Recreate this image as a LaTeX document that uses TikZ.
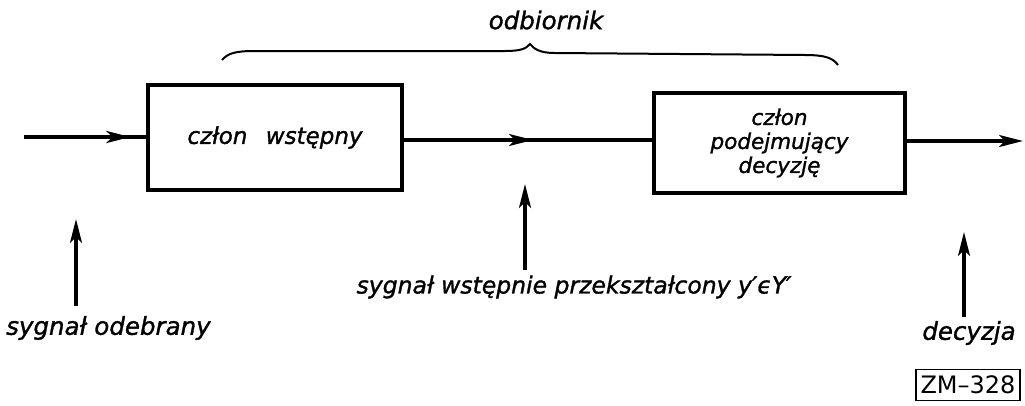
\documentclass[tikz,border=0pt]{standalone}
\usepackage{fontspec}
\setmainfont{DejaVu Sans}
\newfontfamily\techit[FakeBold=1.3]{DejaVu Sans Oblique}
\usetikzlibrary{arrows.meta,decorations.markings}
\tikzset{
  lbl/.style={font=\fontsize{24.5}{28}\selectfont\techit, inner sep=0pt},
  blok/.style={draw, line width=3.4pt, align=center, font=\fontsize{21.5}{24}\selectfont\techit, inner sep=0pt},
  tip/.tip={Stealth[length=24pt,width=12pt,inset=6pt]},
  sig/.style={line width=3.4pt, -tip},
  flow/.style={line width=3.4pt},
  arrowat/.style={postaction={decorate}, decoration={markings, mark=at position #1 with {\arrow{tip}}}},
  tag/.style={draw, line width=1.8pt, font=\fontsize{24}{26}\selectfont, minimum width=104pt, minimum height=31pt, inner sep=0pt}
}
\begin{document}
\begin{tikzpicture}[x=1pt,y=-1pt]
\useasboundingbox (0,0) rectangle (1025,405);
% blocks
\node[blok, minimum width=254pt, minimum height=105pt, font=\fontsize{23}{26}\selectfont\techit] (b1) at (275,137.5) {człon\hspace{0.8em}wstępny};
\node[blok, minimum width=251pt, minimum height=100pt] (b2) at (779.5,143) {człon\\podejmujący\\decyzję};
% flow
\coordinate (in) at (24,137);
\coordinate (out) at (1023,141);
\draw[flow, arrowat=0.87] (in) -- (in -| b1.west);
\draw[flow, arrowat=0.52] (b1.east |- 0,140) -- (b2.west |- 0,140);
\draw[sig] (b2.east |- 0,141) -- (out);
% brace
\coordinate (bl) at (222,60);
\coordinate (br) at (838,65);
\coordinate (bt) at (530,44);
\draw[line width=2pt] (bl) .. controls (228,53) and (236,51) .. (255,51) -- (505,51)
  .. controls (520,51) and (526,49) .. (bt) .. controls (534,49) and (540,53) .. (555,53)
  -- (805,55) .. controls (825,55) and (833,58) .. (br);
\node[lbl] (odb) at (546,20) {odbiornik};
% labels with upward arrows
\node[lbl, anchor=west] (s1) at (6,328) {sygnał odebrany};
\coordinate (a1s) at (76,306);
\coordinate (a1e) at (76,219);
\draw[sig] (a1s) -- (a1e);
\node[lbl, font=\fontsize{23.5}{28}\selectfont\techit] (s2) at (574,287) {sygnał wstępnie przekształcony y′ϵY′};
\coordinate (a2s) at (525,270);
\coordinate (a2e) at (525,184);
\draw[sig] (a2s) -- (a2e);
\node[lbl] (s3) at (969,333) {decyzja};
\coordinate (a3s) at (964,317);
\coordinate (a3e) at (964,232);
\draw[sig] (a3s) -- (a3e);
% tag
\node[tag] (zm) at (968,385) {ZM–328};
\end{tikzpicture}
\end{document}
